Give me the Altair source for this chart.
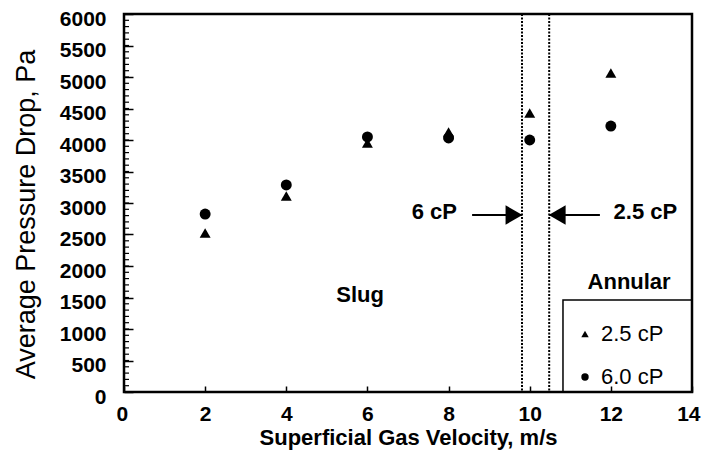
import altair as alt
import pandas as pd

# ---- data ----
velocity = [2, 4, 6, 8, 10, 12]
dp_25cp = [2524, 3111, 3952, 4127, 4429, 5063]
dp_60cp = [2825, 3286, 4048, 4032, 4000, 4222]
series_names = ["2.5 cP", "6.0 cP"]
series_shapes = ["triangle-up", "circle"]

x_ticks = [0, 2, 4, 6, 8, 10, 12, 14]
y_major = list(range(0, 6001, 500))
y_minor = list(range(0, 6001, 100))

# slug/annular transition velocities (dotted lines)
transitions = [9.81, 10.48]

# annotations
ann_text = ["6 cP", "2.5 cP", "Slug", "Annular"]
ann_x = [7.65, 12.85, 5.82, 12.45]
ann_y = [2857, 2857, 1540, 1746]

arrow_from = [8.58, 11.73]
arrow_tip = [9.81, 10.48]
arrow_y = [2810, 2810]
arrow_shape = ["triangle-right", "triangle-left"]

legend_box_x = [10.82, 14]
legend_box_y = [0, 1460]

FONT = "Liberation Sans"
W, H = 568, 378

df = pd.DataFrame({
    "v": velocity * 2,
    "dp": dp_25cp + dp_60cp,
    "series": [series_names[0]] * len(velocity) + [series_names[1]] * len(velocity),
})
ann_df = pd.DataFrame({"text": ann_text, "x": ann_x, "y": ann_y})
arrow_df = pd.DataFrame({"x": arrow_from, "x2": arrow_tip, "y": arrow_y,
                         "shape": arrow_shape})
trans_df = pd.DataFrame({"x": transitions})
box_df = pd.DataFrame({"x": [legend_box_x[0]], "x2": [legend_box_x[1]],
                       "y": [legend_box_y[0]], "y2": [legend_box_y[1]]})
minor_df = pd.DataFrame({"y": y_minor})

x_scale = alt.Scale(domain=[0, 14], nice=False, zero=False)
y_scale = alt.Scale(domain=[0, 6000], nice=False)

x_axis = alt.Axis(values=x_ticks, title="Superficial Gas Velocity, m/s",
                  orient="bottom", offset=-6, tickSize=6, tickWidth=1.5,
                  tickColor="black", domain=False, grid=False,
                  labelPadding=11, labelFlush=True, labelFlushOffset=8,
                  labelFont=FONT, labelFontSize=21, labelFontWeight="bold",
                  labelColor="black", titleFont=FONT, titleFontSize=22,
                  titleFontWeight="bold", titleColor="black", titlePadding=3)

y_axis = alt.Axis(values=y_major, format="d", orient="left", offset=-9,
                  tickSize=9, tickWidth=1.5, tickColor="black",
                  domain=False, grid=False, labelOffset=5,
                  labelPadding=18, labelFont=FONT, labelFontSize=21,
                  labelFontWeight="bold", labelColor="black",
                  title="Average Pressure Drop, Pa", titleFont=FONT,
                  titleFontSize=27, titleFontWeight="normal",
                  titleColor="black", titlePadding=19, titleY=200)


def X(field):
    return alt.X(field, type="quantitative", scale=x_scale, axis=x_axis)


def Y(field):
    return alt.Y(field, type="quantitative", scale=y_scale, axis=y_axis)


points = alt.Chart(df).mark_point(filled=True, opacity=1, color="black", size=120).encode(
    x=X("v"),
    y=Y("dp"),
    shape=alt.Shape("series:N",
                    scale=alt.Scale(domain=series_names, range=series_shapes),
                    legend=alt.Legend(orient="none", legendX=450, legendY=309,
                                      title=None, labelFont=FONT, labelFontSize=22,
                                      labelColor="black", symbolSize=55,
                                      symbolFillColor="black", symbolStrokeColor="black",
                                      rowPadding=21, labelOffset=5, padding=0)),
)

# minor tick marks along the left border, every 100 Pa
minor = alt.Chart(minor_df).mark_rule(color="black", strokeWidth=1.2).encode(
    x=alt.value(0), x2=alt.value(5),
    y=Y("y"),
)

trans = alt.Chart(trans_df).mark_rule(color="black", strokeWidth=2,
                                      strokeDash=[2, 1.5]).encode(x=X("x"))

box = alt.Chart(box_df).mark_rect(fillOpacity=0, stroke="black", strokeWidth=1.5).encode(
    x=X("x"), x2="x2",
    y=Y("y"), y2="y2",
)

shafts = alt.Chart(arrow_df).mark_rule(color="black", strokeWidth=2).encode(
    x=X("x"), x2="x2",
    y=Y("y"),
)


def head(shape, shift):
    return alt.Chart(arrow_df).transform_filter(
        alt.datum.shape == shape
    ).mark_point(filled=True, opacity=1, color="black", size=380,
                 shape=shape, xOffset=shift).encode(
        x=X("x2"),
        y=Y("y"),
    )


head_r = head("triangle-right", -8)
head_l = head("triangle-left", 8)

labels = alt.Chart(ann_df).mark_text(font=FONT, fontSize=22, fontWeight="bold",
                                     color="black", align="center",
                                     baseline="middle").encode(
    x=X("x"),
    y=Y("y"),
    text="text:N",
)

chart = alt.layer(points, minor, trans, box, shafts, head_r, head_l, labels).properties(
    width=W, height=H, autosize="none",
    padding={"left": 116, "top": 6, "right": 9, "bottom": 58},
    background="white",
).configure_view(stroke="black", strokeWidth=2.5)

chart.save("out.html", embed_options={"renderer": "svg", "actions": False})
